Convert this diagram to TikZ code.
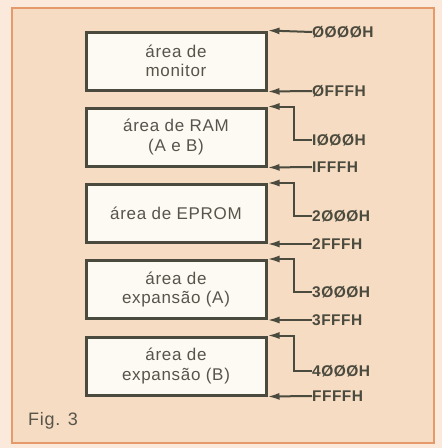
\documentclass[tikz,border=0pt]{standalone}
\usepackage{fontspec}
\setmainfont{Liberation Sans}
\newfontfamily\boxfont[LetterSpace=4]{Liberation Sans}
\newfontfamily\hexfont[LetterSpace=3]{Liberation Sans}
\usetikzlibrary{arrows.meta}
\definecolor{bgc}{HTML}{F6DCC2}
\definecolor{outerc}{HTML}{FBEADB}
\definecolor{framec}{HTML}{E59A6C}
\definecolor{inkc}{HTML}{4B4A3E}
\definecolor{txtc}{HTML}{57554A}
\definecolor{boxfillc}{HTML}{FDFAF4}
\tikzset{
  membox/.style={draw=inkc, line width=3pt, fill=boxfillc, minimum width=180pt,
    minimum height=58pt, inner sep=0pt, align=center, text=txtc,
    font=\boxfont\fontsize{17}{19.5}\selectfont},
  hexlab/.style={anchor=west, inner sep=0pt, text=inkc,
    font=\hexfont\bfseries\fontsize{15.5}{17}\selectfont},
  arr/.style={draw=inkc, line width=2pt, -{Latex[length=12pt,width=7pt]}}
}
\begin{document}
\begin{tikzpicture}[x=1pt,y=-1pt]
\useasboundingbox (0,0) rectangle (442,448);
\fill[outerc] (0,0) rectangle (442,448);
\fill[bgc] (12,8) rectangle (434,443);
\draw[framec, line width=2pt] (12,8) rectangle (434,443);

\node[membox] (b1) at (176,61) {área de\\monitor};
\node[membox] (b2) at (176,137) {área de RAM\\(A e B)};
\node[membox] (b3) at (176,213.5) {área de EPROM};
\node[membox] (b4) at (176,289.5) {área de\\expansão (A)};
\node[membox] (b5) at (176,366) {área de\\expansão (B)};

\node[hexlab] (h1) at (312,32) {ØØØØH};
\node[hexlab] (h2) at (312,91) {ØFFFH};
\node[hexlab] (h3) at (312,140) {IØØØH};
\node[hexlab] (h4) at (312,167) {IFFFH};
\node[hexlab] (h5) at (312,216) {2ØØØH};
\node[hexlab] (h6) at (312,244) {2FFFH};
\node[hexlab] (h7) at (312,292) {3ØØØH};
\node[hexlab] (h8) at (312,320) {3FFFH};
\node[hexlab] (h9) at (312,371) {4ØØØH};
\node[hexlab] (h10) at (312,396) {FFFFH};

\draw[arr] (h1.west) -- (b1.north east);
\draw[arr] (h2.west) -- (b1.south east);
\draw[arr] (h3.west) -| ([xshift=26pt]b2.north east) -- (b2.north east);
\draw[arr] (h4.west) -- (b2.south east);
\draw[arr] (h5.west) -| ([xshift=26pt]b3.north east) -- (b3.north east);
\draw[arr] (h6.west) -- (b3.south east);
\draw[arr] (h7.west) -| ([xshift=26pt]b4.north east) -- (b4.north east);
\draw[arr] (h8.west) -- (b4.south east);
\draw[arr] (h9.west) -| ([xshift=26pt]b5.north east) -- (b5.north east);
\draw[arr] (h10.west) -- (b5.south east);

\node[anchor=base west, inner sep=0pt, text=txtc, font=\boxfont\fontsize{18}{20}\selectfont] (fig) at (28,425) {Fig. 3};
\end{tikzpicture}
\end{document}
